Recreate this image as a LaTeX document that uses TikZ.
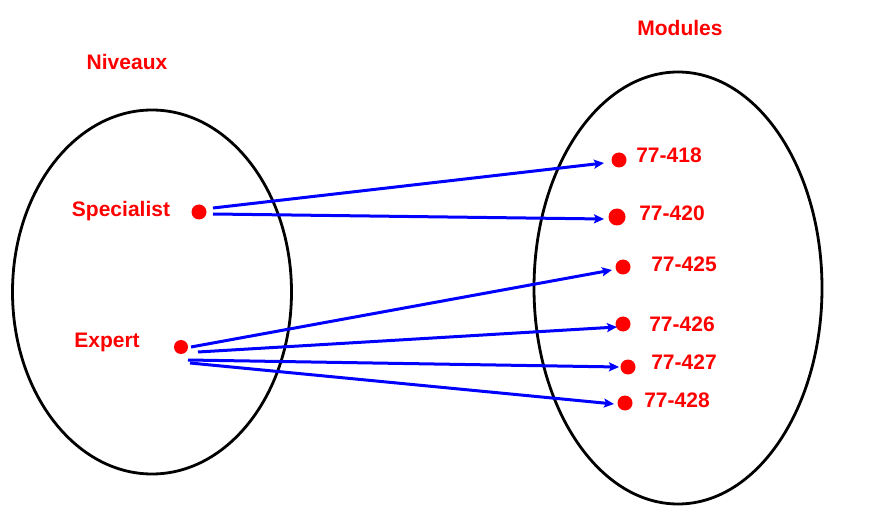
\documentclass[tikz,border=0pt]{standalone}
\usepackage{fontspec}
\setmainfont{Liberation Sans}
\usetikzlibrary{arrows.meta}

\begin{document}
\begin{tikzpicture}[x=1pt,y=-1pt,
  lbl/.style={text=red,font=\fontsize{21}{24}\selectfont\bfseries,inner sep=0pt},
  pt/.style={circle,fill=red,inner sep=0pt,minimum size=15pt},
  link/.style={draw=blue,line width=3pt,-{Stealth[length=10pt,width=9pt,inset=2pt]}}]
\useasboundingbox (0,0) rectangle (872,526);
% the two sets
\draw[line width=2.8pt] (152,292) ellipse [x radius=139.5,y radius=182];
\draw[line width=2.8pt] (678,288) ellipse [x radius=144,y radius=216];
\node[lbl] (niv) at (127,62) {Niveaux};
\node[lbl] (mod) at (680,28) {Modules};
% niveaux
\node[pt] (spec) at (199,212) {};
\node[pt,minimum size=14pt] (expe) at (181,347) {};
\node[lbl] (speclbl) at (121,211) {Specialist};
\node[lbl] (expelbl) at (107,342) {Expert};
% modules
\node[pt] (m418) at (619,160) {};
\node[pt,minimum size=17pt] (m420) at (617,217) {};
\node[pt] (m425) at (623,267) {};
\node[pt] (m426) at (623,324) {};
\node[pt] (m427) at (628,367) {};
\node[pt] (m428) at (625,403) {};
\node[lbl] (l418) at (669,155) {77-418};
\node[lbl] (l420) at (672,213) {77-420};
\node[lbl] (l425) at (684,264) {77-425};
\node[lbl] (l426) at (682,324) {77-426};
\node[lbl] (l427) at (684,362) {77-427};
\node[lbl] (l428) at (677,400) {77-428};
% arrows
\draw[link] ([shift={(14,-4)}]spec.center) -- ([shift={(-15,3)}]m418.center);
\draw[link] ([shift={(14,2)}]spec.center) -- ([shift={(-13,2)}]m420.center);
\draw[link] ([shift={(10,0)}]expe.center) -- ([shift={(-11,3)}]m425.center);
\draw[link] ([shift={(17,5)}]expe.center) -- ([shift={(-6,3)}]m426.center);
\draw[link] ([shift={(7,13)}]expe.center) -- ([shift={(-9,0)}]m427.center);
\draw[link] ([shift={(9,16)}]expe.center) -- ([shift={(-11,1)}]m428.center);
\end{tikzpicture}
\end{document}
